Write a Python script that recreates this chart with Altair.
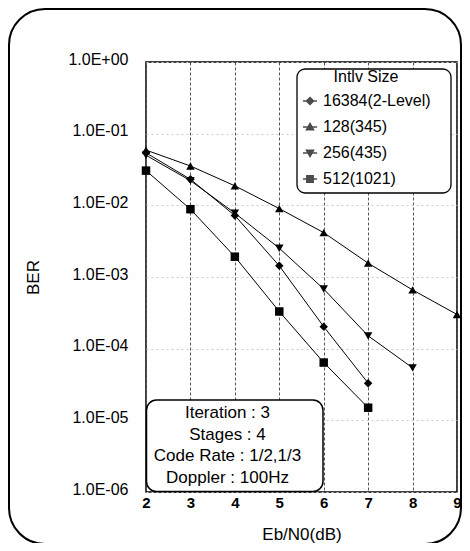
import altair as alt
import pandas as pd

# ---- data ----
snr = [2, 3, 4, 5, 6, 7, 8, 9]
series_names = ["16384(2-Level)", "128(345)", "256(435)", "512(1021)"]
ber_16384 = [0.054, 0.0231, 0.0072, 0.00143, 0.000203, 3.3e-5]          # Eb/N0 2..7
ber_128 = [0.059, 0.0354, 0.0187, 0.009, 0.00416, 0.00156, 0.00066, 0.0003]  # 2..9
ber_256 = [0.050, 0.0221, 0.0078, 0.00252, 0.00068, 0.000151, 5.4e-5]   # 2..8
ber_512 = [0.0305, 0.00883, 0.00192, 0.00033, 6.4e-5, 1.5e-5]           # 2..7
y_ticks = [1e-6, 1e-5, 1e-4, 1e-3, 1e-2, 1e-1, 1.0]
legend_title = "Intlv Size"
info_lines = ["Iteration : 3", "Stages : 4", "Code Rate : 1/2,1/3", "Doppler : 100Hz"]
x_title = "Eb/N0(dB)"
y_title = "BER"

marker_shapes = ["diamond", "triangle-up", "triangle-down", "square"]
legend_shapes = [
    "M-2,0H2M-1,0L0,-1L1,0L0,1Z",
    "M-2,0H2M0,-1L1,0.75L-1,0.75Z",
    "M-2,0H2M0,1L1,-0.75L-1,-0.75Z",
    "M-2,0H2M-0.9,-0.9H0.9V0.9H-0.9Z",
]

rows = []
for name, vals in zip(series_names, [ber_16384, ber_128, ber_256, ber_512]):
    for xv, v in zip(snr, vals):
        rows.append({"series": name, "snr": xv, "ber": v})
df = pd.DataFrame(rows)

FONT = "Liberation Sans"

xscale = alt.Scale(domain=[2, 9], nice=False, zero=False)
yscale = alt.Scale(type="log", domain=[1e-6, 1], nice=False)

x_enc = alt.X(
    "snr:Q", scale=xscale,
    axis=alt.Axis(
        values=snr, title=x_title, grid=True, gridDash=[3, 2], gridColor="#555555",
        gridWidth=1, ticks=False, domain=False, labelFontWeight="bold",
        labelFontSize=15, labelPadding=3, labelFlush=False, labelColor="black",
        titleFontSize=17, titleFontWeight="normal", titleColor="black",
        titleY=42, titleBaseline="middle",
    ),
)
y_axis = alt.Axis(
    values=y_ticks, title=y_title, grid=True, gridDash=[2, 3], gridColor="#cccccc",
    gridWidth=1, ticks=False, domain=False, labelFontSize=16, labelPadding=18,
    labelFlush=False, labelOverlap=False, labelOffset=-3, labelColor="black",
    labelExpr="'1.0E' + (datum.value >= 1 ? '+' : '-') + '0' + abs(round(log(datum.value) / LN10))",
    titleFontSize=17, titleFontWeight="normal", titleColor="black",
    titleX=-113, titleY=215, titleAngle=270, titleBaseline="middle",
)
y_enc = alt.Y("ber:Q", scale=yscale, axis=y_axis)

one = pd.DataFrame({"k": [0]})

legend_box = alt.Chart(one).mark_rect(
    fill="white", stroke="black", strokeWidth=1.3, cornerRadius=8
).encode(x=alt.value(151), x2=alt.value(305), y=alt.value(7), y2=alt.value(131))

lines = alt.Chart(df).mark_line(color="black", strokeWidth=1).encode(
    x=x_enc, y=y_enc, detail="series:N"
)

points = alt.Chart(df).mark_point(filled=True, color="black", opacity=1, size=72).encode(
    x=x_enc, y=y_enc,
    shape=alt.Shape("series:N", scale=alt.Scale(domain=series_names, range=marker_shapes), legend=None),
)

# legend-only layer: its points are pushed below the axis domain and clipped away
legend_pts = alt.Chart(df).transform_calculate(hidden="1e-9").mark_point(
    filled=True, color="black", stroke="black", strokeWidth=1, size=50, clip=True
).encode(
    x=x_enc,
    y=alt.Y("hidden:Q", scale=yscale, axis=y_axis),
    shape=alt.Shape(
        "series:N",
        scale=alt.Scale(domain=series_names, range=legend_shapes),
        legend=alt.Legend(
            title=legend_title, orient="none", legendX=156, legendY=7,
            titleAnchor="middle", titleFontSize=16, titleFontWeight="normal",
            titleColor="black", titlePadding=8, labelFontSize=16, labelColor="black",
            labelOffset=5, rowPadding=10, symbolSize=50, padding=0,
        ),
    ),
)

info_box = alt.Chart(one).mark_rect(
    fill="white", stroke="black", strokeWidth=1.5, cornerRadius=10
).encode(x=alt.value(0.5), x2=alt.value(177), y=alt.value(338), y2=alt.value(429.5))

info_text = alt.Chart(one).mark_text(
    fontSize=17, font=FONT, color="black", align="center", baseline="middle", lineHeight=21.5
).encode(x=alt.value(81.5), y=alt.value(351), text=alt.value(info_lines))

outer_frame = alt.Chart(one).mark_rect(
    fillOpacity=0, stroke="black", strokeWidth=2, cornerRadius=36
).encode(x=alt.value(-137), x2=alt.value(315), y=alt.value(-53), y2=alt.value(482))

chart = alt.layer(
    legend_box, lines, points, legend_pts, info_box, info_text, outer_frame
).resolve_scale(shape="independent").properties(
    width=311, height=430,
    autosize=alt.AutoSizeParams(type="none"),
    padding={"left": 138, "top": 54, "right": 5, "bottom": 51},
).configure(font=FONT).configure_view(stroke="black", strokeWidth=1.5)

chart.save("out.html", embed_options={"renderer": "svg", "actions": False})
